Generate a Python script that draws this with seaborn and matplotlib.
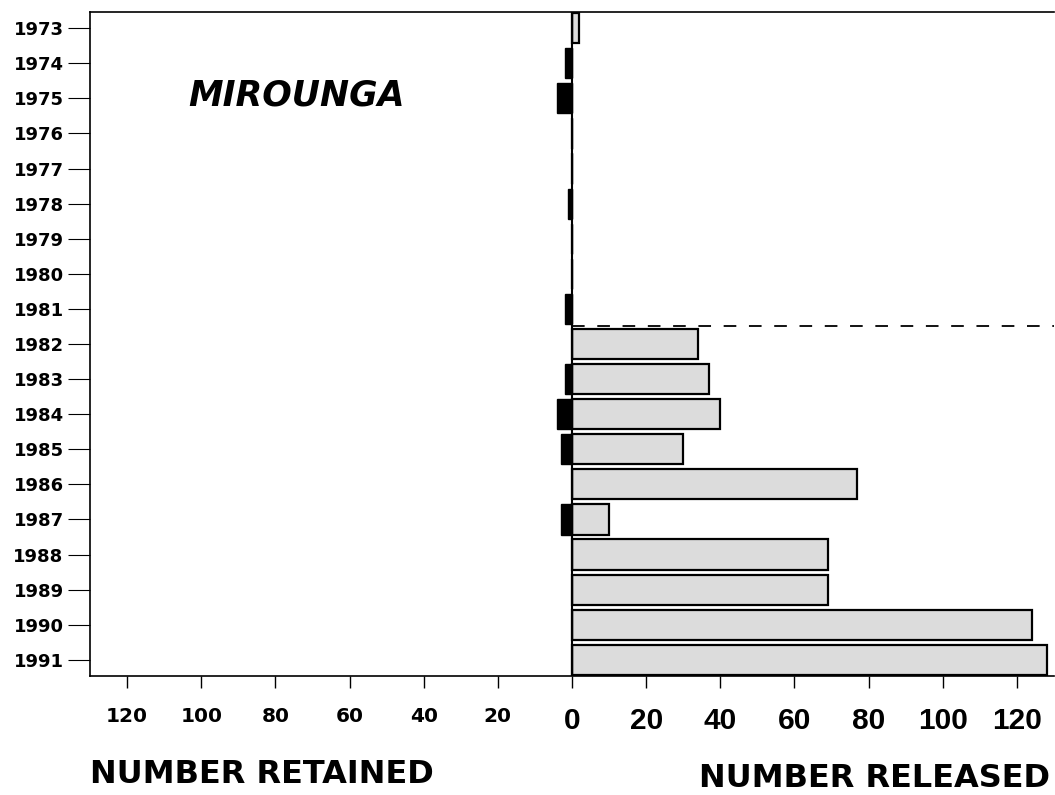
import matplotlib
matplotlib.use("Agg")
import matplotlib.pyplot as plt
import seaborn as sns
import pandas as pd
import numpy as np

# ---- data ----
years = [str(y) for y in range(1973, 1992)]
released = [2, 0, 0, 0, 0, 0, 0, 0, 0, 34, 37, 40, 30, 77, 10, 69, 69, 124, 128]
retained = [0, 2, 4, 0, 0, 1, 0, 0, 2, 0, 2, 4, 3, 0, 3, 0, 0, 0, 0]
tick_values = [20, 40, 60, 80, 100, 120]
title_text = "MIROUNGA"
left_label = "NUMBER RETAINED"
right_label = "NUMBER RELEASED"
break_year = "1982"

sns.set_style("white")
plt.rcParams["font.family"] = ["DejaVu Sans"]
plt.rcParams["text.color"] = "black"
plt.rcParams["xtick.color"] = "black"
plt.rcParams["ytick.color"] = "black"

df = pd.DataFrame({"year": years,
                   "released": released,
                   "retained": [-v for v in retained]})

fig = plt.figure(figsize=(10.55, 7.95), dpi=100)
ax = fig.add_axes([90 / 1055, 119 / 795, 964 / 1055, 664 / 795])

sns.barplot(data=df, x="released", y="year", orient="h", ax=ax,
            color="#dcdcdc", edgecolor="black", linewidth=1.6,
            width=0.86, saturation=1)
sns.barplot(data=df, x="retained", y="year", orient="h", ax=ax,
            color="black", edgecolor="black", linewidth=1.0,
            width=0.86, saturation=1)

ax.set_xlim(-130, 130)
ax.set_ylim(len(years) - 0.54, -0.46)

# zero line
ax.axvline(0, color="black", lw=1.5, zorder=5)

# dashed separator before break year
yb = years.index(break_year) - 0.5
ax.plot([0, ax.get_xlim()[1]], [yb, yb], color="black", lw=1.3,
        linestyle=(0, (7, 7)), zorder=5)

# x ticks: retained (left) and released (right)
xt = [-v for v in tick_values[::-1]] + [0] + tick_values
ax.set_xticks(xt)
ax.set_xticklabels([str(abs(v)) for v in xt])
for v, lab in zip(xt, ax.get_xticklabels()):
    lab.set_fontweight("bold")
    lab.set_color("black")
    if v < 0:
        lab.set_fontfamily("DejaVu Sans")
        lab.set_fontsize(14.5)
    else:
        lab.set_fontfamily("Liberation Sans")
        lab.set_fontsize(21.5)
ax.tick_params(axis="x", direction="out", length=8.6, width=1.0,
               pad=14, bottom=True, colors="black")

ax.set_yticks(range(len(years)))
ax.set_yticklabels(years, fontsize=13, fontweight="bold", fontfamily="DejaVu Sans",
                   color="black")
ax.tick_params(axis="y", direction="out", length=16, width=0.8, pad=3,
               left=True, colors="black")

ax.set_xlabel("")
ax.set_ylabel("")

for s in ["left", "top", "bottom"]:
    ax.spines[s].set_visible(True)
    ax.spines[s].set_color("black")
    ax.spines[s].set_linewidth(1.2)
ax.spines["right"].set_visible(False)

fig.text(188 / 1055, (795 - 95) / 795, title_text, fontsize=25, color="black",
         fontweight="bold", fontstyle="italic", va="center", ha="left")
fig.text(90 / 1055, (795 - 783) / 795, left_label, fontsize=23, color="black",
         fontweight="bold", va="baseline", ha="left")
fig.text(1050 / 1055, (795 - 787) / 795, right_label, fontsize=23, color="black",
         fontweight="bold", va="baseline", ha="right")

fig.savefig("out.png", dpi=100)
